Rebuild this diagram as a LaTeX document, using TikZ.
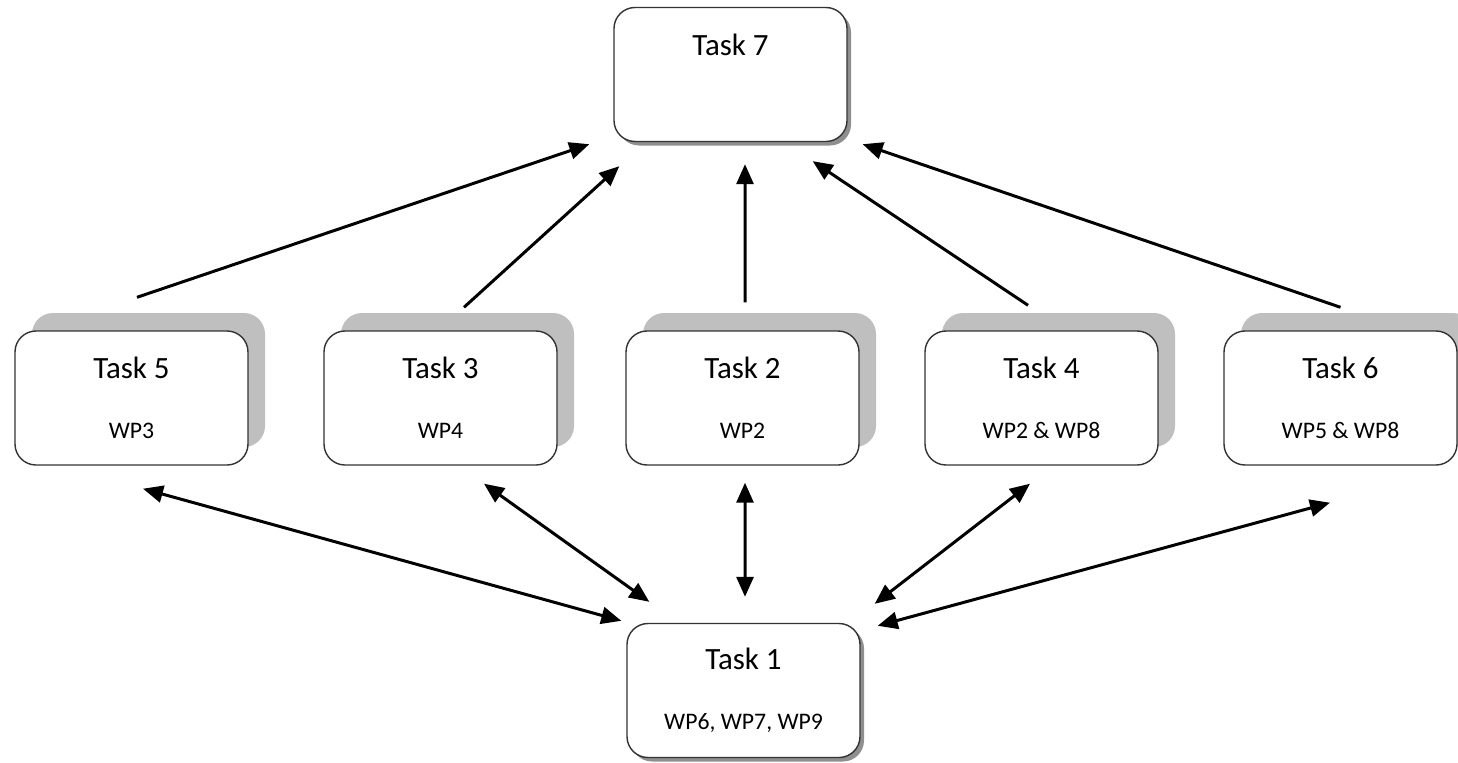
\documentclass[tikz,border=0pt]{standalone}
\usepackage{fontspec}
\setmainfont{Carlito}
\usetikzlibrary{arrows.meta,shadows}

\tikzset{
  taskbox/.style={draw=black!80, line width=0.8pt, fill=white, rounded corners=0.42cm,
    minimum width=4.66cm, minimum height=2.68cm, align=center, inner sep=0pt,
    font=\fontsize{17.6}{34}\selectfont},
  backshadow/.style={drop shadow={shadow xshift=0.34cm, shadow yshift=0.36cm, fill=black!25, opacity=1}},
  darkshadow/.style={drop shadow={shadow xshift=0.08cm, shadow yshift=-0.08cm, fill=black!55, opacity=0.8}},
  arr/.style={line width=1.7pt, -{Triangle[length=0.4cm,width=0.34cm]}},
  darr/.style={line width=1.7pt, {Triangle[length=0.4cm,width=0.34cm]}-{Triangle[length=0.4cm,width=0.34cm]}}
}
\newcommand{\wplabel}[1]{{\fontsize{13.5}{34}\selectfont #1}}

\begin{document}
\begin{tikzpicture}
    \useasboundingbox (0,0) rectangle (29.16,-15.24);
    % top
    \node [taskbox, darkshadow] (t7) at (14.61,-1.49) {Task 7\\\wplabel{\phantom{WP}}};
    % middle row
    \node [taskbox, backshadow] (t5) at (2.63,-7.96) {Task 5\\\wplabel{WP3}};
    \node [taskbox, backshadow] (t3) at (8.81,-7.96) {Task 3\\\wplabel{WP4}};
    \node [taskbox, backshadow] (t2) at (14.85,-7.96) {Task 2\\\wplabel{WP2}};
    \node [taskbox, backshadow] (t4) at (20.83,-7.96) {Task 4\\\wplabel{WP2 \& WP8}};
    \node [taskbox, backshadow] (t6) at (26.81,-7.96) {Task 6\\\wplabel{WP5 \& WP8}};
    % bottom
    \node [taskbox, darkshadow] (t1) at (14.87,-13.81) {Task 1\\\wplabel{WP6, WP7, WP9}};

    % up to Task 7
    \draw [arr] ([shift={(0.11,0.66)}]t5.north) -- ([shift={(-0.48,-0.04)}]t7.south west);
    \draw [arr] ([shift={(0.47,0.46)}]t3.north) -- ([shift={(0.12,-0.48)}]t7.south west);
    \draw [arr] ([shift={(0.05,0.56)}]t2.north) -- ([shift={(0.29,-0.44)}]t7.south);
    \draw [arr] ([shift={(-0.27,0.5)}]t4.north) -- ([shift={(-0.7,-0.38)}]t7.south east);
    \draw [arr] ([shift={(0,0.46)}]t6.north) -- ([shift={(0.3,-0.04)}]t7.south east);

    % Task 1 both ways
    \draw [darr] ([shift={(0.23,-0.46)}]t5.south) -- ([shift={(-0.1,0.04)}]t1.north west);
    \draw [darr] ([shift={(0.87,-0.36)}]t3.south) -- ([shift={(0.46,0.42)}]t1.north west);
    \draw [darr] ([shift={(0.05,-0.34)}]t2.south) -- ([shift={(0.03,0.52)}]t1.north);
    \draw [darr] ([shift={(-0.23,-0.36)}]t4.south) -- ([shift={(0.28,0.38)}]t1.north east);
    \draw [darr] ([shift={(-0.21,-0.74)}]t6.south) -- ([shift={(0.34,-0.06)}]t1.north east);
\end{tikzpicture}
\end{document}
